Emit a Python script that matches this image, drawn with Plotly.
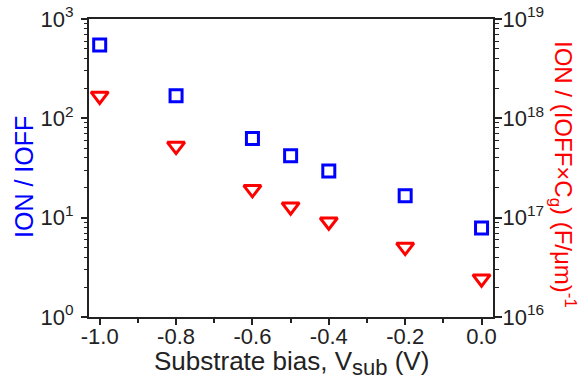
import plotly.graph_objects as go

# ---- data ----
vsub = [-1.0, -0.8, -0.6, -0.5, -0.4, -0.2, 0.0]
ion_ioff = [547, 169, 62.8, 42, 29.5, 16.6, 7.85]
ion_ioff_cg = [1.68e18, 5.26e17, 1.93e17, 1.29e17, 9.1e16, 5.06e16, 2.43e16]

x_tickvals = [-1.0, -0.8, -0.6, -0.4, -0.2, 0.0]
x_ticktext = ["-1.0", "-0.8", "-0.6", "-0.4", "-0.2", "0.0"]
x_minorvals = [-0.9, -0.7, -0.5, -0.3, -0.1]
yl_exps = [0, 1, 2, 3]
yr_exps = [16, 17, 18, 19]

FONT = "Liberation Sans, Arial, sans-serif"
AX = "#222222"

L, R, T, B = 89, 89, 19, 67
W, H = 582, 384
pw = W - L - R
ph = H - T - B

xr = [-1.028, 0.030]

def log_minor(exps):
    vals = []
    for e in exps[:-1]:
        for m in range(2, 10):
            vals.append(m * 10 ** e)
    return vals

def px_x(p):
    return (p - L) / pw

def px_y(p):
    return (H - B - p) / ph

fig = go.Figure()
fig.add_trace(go.Scatter(
    x=vsub, y=ion_ioff, mode="markers", xaxis="x", yaxis="y",
    marker=dict(symbol="square-open", size=12, color="#0000ff",
                line=dict(width=3, color="#0000ff")),
    showlegend=False))
fig.add_trace(go.Scatter(
    x=vsub, y=ion_ioff_cg, mode="markers", xaxis="x", yaxis="y2",
    marker=dict(symbol="triangle-down-open", size=15, color="#ff0000",
                line=dict(width=3, color="#ff0000")),
    showlegend=False))

tickfont = dict(family=FONT, size=22, color=AX)

fig.update_layout(
    width=W, height=H,
    margin=dict(l=L, r=R, t=T, b=B, pad=0, autoexpand=False),
    paper_bgcolor="white", plot_bgcolor="white",
    showlegend=False,
    xaxis=dict(
        range=xr, tickmode="array", tickvals=x_tickvals, ticktext=x_ticktext,
        ticks="outside", ticklen=6, tickwidth=1.5, tickcolor=AX,
        showline=True, linewidth=2, linecolor=AX, mirror=True,
        showgrid=False, zeroline=False, tickfont=tickfont, automargin=False,
        ticklabelstandoff=-7,
        minor=dict(tickmode="array", tickvals=x_minorvals,
                   ticks="outside", ticklen=4, tickwidth=1.5, tickcolor=AX),
    ),
    xaxis2=dict(
        overlaying="x", side="top", range=xr, tickmode="array",
        tickvals=x_tickvals, showticklabels=False, automargin=False,
        ticks="inside", ticklen=6, tickwidth=1.5, tickcolor=AX,
        showline=False, showgrid=False, zeroline=False,
        minor=dict(tickmode="array", tickvals=x_minorvals,
                   ticks="inside", ticklen=4, tickwidth=1.5, tickcolor=AX),
    ),
    yaxis=dict(
        type="log", range=[yl_exps[0], yl_exps[-1]],
        tickmode="array", tickvals=[10 ** e for e in yl_exps],
        ticktext=["10<sup>%d</sup>" % e for e in yl_exps],
        ticks="outside", ticklen=6, tickwidth=1.5, tickcolor=AX,
        showline=True, linewidth=2, linecolor=AX, automargin=False,
        showgrid=False, zeroline=False, tickfont=tickfont,
        ticklabelstandoff=3,
        minor=dict(tickmode="array", tickvals=log_minor(yl_exps),
                   ticks="outside", ticklen=3, tickwidth=1.2, tickcolor=AX),
    ),
    yaxis2=dict(
        type="log", overlaying="y", side="right",
        range=[yr_exps[0], yr_exps[-1]], automargin=False,
        tickmode="array", tickvals=[10 ** e for e in yr_exps],
        ticktext=["10<sup>%d</sup>" % e for e in yr_exps],
        ticks="outside", ticklen=7, tickwidth=1.5, tickcolor=AX,
        showline=True, linewidth=2, linecolor=AX,
        showgrid=False, zeroline=False, tickfont=tickfont,
        ticklabelstandoff=-4,
        minor=dict(tickmode="array", tickvals=log_minor(yr_exps),
                   ticks="outside", ticklen=4, tickwidth=1.2, tickcolor=AX),
    ),
    annotations=[
        dict(text="Substrate bias, V<sub><span style='font-size:22px'>sub</span></sub> (V)",
             xref="paper", yref="paper",
             x=px_x(291), y=px_y(363), showarrow=False,
             xanchor="center", yanchor="middle",
             font=dict(family=FONT, size=26, color=AX)),
        dict(text="ION / IOFF", xref="paper", yref="paper",
             x=px_x(24), y=px_y(177), textangle=-90,
             showarrow=False, xanchor="center", yanchor="middle",
             font=dict(family=FONT, size=25, color="#0000ff")),
        dict(text="ION / (IOFF×C<sub>g</sub>) (F/μm)<sup>-1</sup>",
             xref="paper", yref="paper",
             x=px_x(563), y=px_y(174), textangle=90,
             showarrow=False, xanchor="center", yanchor="middle",
             font=dict(family=FONT, size=24, color="#ff0000")),
    ],
)

fig.write_html("out.html",
               config={"displayModeBar": False},
               post_script="document.body.style.margin='0';document.body.style.padding='0';")
